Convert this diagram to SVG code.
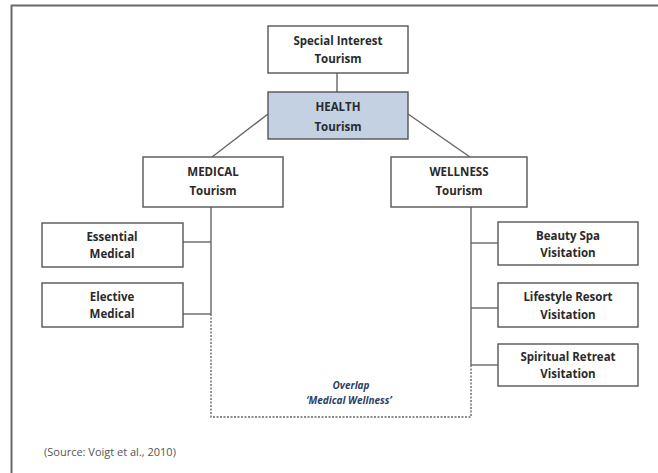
<svg xmlns="http://www.w3.org/2000/svg" width="658" height="473" viewBox="0 0 658 473">
<style>
.box{fill:#fff;stroke:#555;stroke-width:1.4}
.hl{fill:#c3d1e3;stroke:#555;stroke-width:1.4}
.t{font-family:"Open Sans","Liberation Sans",sans-serif;font-weight:bold;font-size:11.5px;fill:#2a2a2a;text-anchor:middle}
.o{font-family:"Open Sans","Liberation Sans",sans-serif;font-size:10px;font-style:italic;font-weight:bold;fill:#2c3e66;text-anchor:middle}
.c{fill:none;stroke:#666;stroke-width:1.4}
.d{fill:none;stroke:#666;stroke-width:1.4;stroke-dasharray:2 1.5}
</style>
<rect x="0" y="0" width="658" height="473" fill="#fff"/>
<path d="M11.5,480 V5.5 H670" fill="none" stroke="#6a6a6a" stroke-width="2"/>
<g id="connectors">
<line class="c" x1="337" y1="73" x2="337" y2="92"/>
<line class="c" x1="268" y1="114" x2="212" y2="157"/>
<line class="c" x1="408" y1="114" x2="470" y2="157"/>
<line class="c" x1="211" y1="207" x2="211" y2="314"/>
<line class="c" x1="183" y1="242" x2="211" y2="242"/>
<line class="c" x1="183" y1="314" x2="211" y2="314"/>
<line class="c" x1="471" y1="207" x2="471" y2="365"/>
<line class="c" x1="471" y1="243" x2="498" y2="243"/>
<line class="c" x1="471" y1="308" x2="498" y2="308"/>
<line class="c" x1="471" y1="365" x2="498" y2="365"/>
<path class="d" d="M211,314 V417 H471 V365"/>
</g>
<g id="special-interest">
<rect class="box" x="268" y="26" width="140" height="47"/>
<text class="t" x="338" y="45">Special Interest</text>
<text class="t" x="338" y="63">Tourism</text>
</g>
<g id="health">
<rect class="hl" x="268" y="92" width="140" height="47"/>
<text class="t" x="338" y="111">HEALTH</text>
<text class="t" x="338" y="131">Tourism</text>
</g>
<g id="medical">
<rect class="box" x="143" y="157" width="140" height="50"/>
<text class="t" x="213" y="176">MEDICAL</text>
<text class="t" x="213" y="195">Tourism</text>
</g>
<g id="wellness">
<rect class="box" x="391" y="157" width="136" height="50"/>
<text class="t" x="459" y="176">WELLNESS</text>
<text class="t" x="459" y="195">Tourism</text>
</g>
<g id="essential">
<rect class="box" x="42" y="223" width="141" height="44"/>
<text class="t" x="112" y="241">Essential</text>
<text class="t" x="112" y="258">Medical</text>
</g>
<g id="elective">
<rect class="box" x="42" y="283" width="141" height="44"/>
<text class="t" x="112" y="301">Elective</text>
<text class="t" x="112" y="318">Medical</text>
</g>
<g id="beauty">
<rect class="box" x="498" y="222" width="140" height="43"/>
<text class="t" x="568" y="240">Beauty Spa</text>
<text class="t" x="568" y="257">Visitation</text>
</g>
<g id="lifestyle">
<rect class="box" x="498" y="283" width="140" height="44"/>
<text class="t" x="568" y="301">Lifestyle Resort</text>
<text class="t" x="568" y="319">Visitation</text>
</g>
<g id="spiritual">
<rect class="box" x="498" y="344" width="140" height="42"/>
<text class="t" x="568" y="361">Spiritual Retreat</text>
<text class="t" x="568" y="378">Visitation</text>
</g>
<g id="overlap">
<text class="o" x="351" y="389">Overlap</text>
<text class="o" x="349" y="404">‘Medical Wellness’</text>
</g>
<text x="44" y="456" font-family="'Open Sans','Liberation Sans',sans-serif" font-size="11" fill="#555">(Source: Voigt et al., 2010)</text>
</svg>
